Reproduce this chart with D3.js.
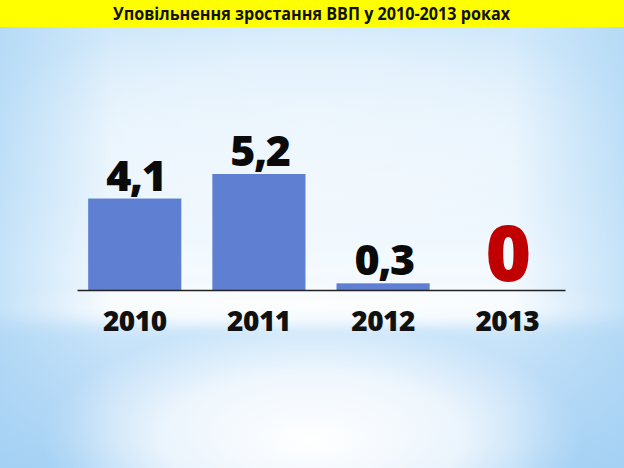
<!DOCTYPE html>
<html lang="uk">
<head>
<meta charset="UTF-8">
<title>Уповільнення зростання ВВП</title>
<script src="https://d3js.org/d3.v7.min.js"></script>
<style>
  html, body { margin: 0; padding: 0; overflow: hidden; }
  svg { display: block; }
</style>
</head>
<body>
<svg width="624" height="468"></svg>
<script>
// data
const years = ['2010', '2011', '2012', '2013'];
const growth = [4.1, 5.2, 0.3, 0];
const labels = ['4,1', '5,2', '0,3', '0'];
const title = 'Уповільнення зростання ВВП у 2010-2013 роках';

const W = 624, H = 468;
const margin = { left: 77, right: 59, base: 290 };

const svg = d3.select('svg');
const defs = svg.append('defs');

// background: soft blue with white glows
const vg = defs.append('linearGradient').attr('id', 'bgv').attr('x1', 0).attr('y1', 0).attr('x2', 0).attr('y2', 1);
[[0, '#cce6fa'], [0.3, '#e2f1fc'], [0.58, '#f4faff'], [0.66, '#eef7fe'], [0.72, '#c9e4f9'], [0.85, '#bcdcf7'], [1, '#a9d3f5']]
  .forEach(([o, c]) => vg.append('stop').attr('offset', o).attr('stop-color', c));

const hg = defs.append('radialGradient').attr('id', 'glow').attr('cx', 0.5).attr('cy', 0.5).attr('r', 0.5);
hg.append('stop').attr('offset', 0).attr('stop-color', '#ffffff').attr('stop-opacity', 1);
hg.append('stop').attr('offset', 0.55).attr('stop-color', '#ffffff').attr('stop-opacity', 0.75);
hg.append('stop').attr('offset', 1).attr('stop-color', '#ffffff').attr('stop-opacity', 0);

const sg = defs.append('linearGradient').attr('id', 'sides').attr('x1', 0).attr('x2', 1);
[[0, 0.55], [0.18, 0], [0.82, 0], [1, 0.55]].forEach(([o, a]) =>
  sg.append('stop').attr('offset', o).attr('stop-color', '#9fcff3').attr('stop-opacity', a));

svg.append('rect').attr('width', W).attr('height', H).attr('fill', 'url(#bgv)');
svg.append('ellipse').attr('cx', 312).attr('cy', 305).attr('rx', 420).attr('ry', 26).attr('fill', 'url(#glow)').attr('opacity', 0.8);
svg.append('ellipse').attr('cx', 312).attr('cy', 440).attr('rx', 270).attr('ry', 120).attr('fill', 'url(#glow)');
svg.append('ellipse').attr('cx', 312).attr('cy', 130).attr('rx', 330).attr('ry', 120).attr('fill', 'url(#glow)').attr('opacity', 0.45);
svg.append('rect').attr('y', 27).attr('width', W).attr('height', H - 27).attr('fill', 'url(#sides)');

// title bar
svg.append('rect').attr('width', W).attr('height', 27).attr('fill', '#ffff00');
svg.append('text')
  .attr('x', 113).attr('y', 20)
  .attr('textLength', 397)
  .attr('lengthAdjust', 'spacingAndGlyphs')
  .attr('font-family', '"Open Sans", sans-serif')
  .attr('font-weight', 'bold')
  .attr('font-size', 17)
  .attr('fill', '#111')
  .text(title);

// scales
const x = d3.scaleBand()
  .domain(years)
  .range([margin.left, W - margin.right])
  .paddingInner(0.25)
  .paddingOuter(0.09);

const y = d3.scaleLinear()
  .domain([0, 5.2])
  .range([margin.base, 174]);

// bars
svg.selectAll('.bar')
  .data(years.map((yr, i) => ({ yr, v: growth[i] })).filter(d => d.v > 0))
  .enter().append('rect')
  .attr('class', 'bar')
  .attr('x', d => x(d.yr))
  .attr('y', d => y(d.v))
  .attr('width', x.bandwidth())
  .attr('height', d => y(0) - y(d.v))
  .attr('fill', '#5f7fd2');

// axis line + year labels
const xAxis = svg.append('g')
  .attr('transform', `translate(0,${margin.base})`)
  .call(d3.axisBottom(x).tickSize(0).tickPadding(21));
xAxis.select('.domain').attr('stroke', '#222').attr('stroke-width', 1.3);
xAxis.selectAll('text')
  .attr('font-family', '"Open Sans", sans-serif')
  .attr('font-weight', 800)
  .attr('font-size', 28)
  .attr('letter-spacing', -0.5)
  .attr('fill', '#111');

// value labels
svg.selectAll('.val')
  .data(years.map((yr, i) => ({ yr, v: growth[i], t: labels[i] })))
  .enter().append('text')
  .attr('class', 'val')
  .attr('x', d => x(d.yr) + x.bandwidth() / 2 + 1)
  .attr('y', d => d.v > 0 ? y(d.v) - 8 : y(0) - 9)
  .attr('text-anchor', 'middle')
  .attr('font-family', '"Open Sans", sans-serif')
  .attr('font-weight', 800)
  .attr('font-size', d => d.v > 0 ? 43 : 78)
  .attr('letter-spacing', d => d.v > 0 ? -1.5 : 0)
  .attr('fill', d => d.v > 0 ? '#0a0a0a' : '#c00000')
  .text(d => d.t);
</script>
</body>
</html>
